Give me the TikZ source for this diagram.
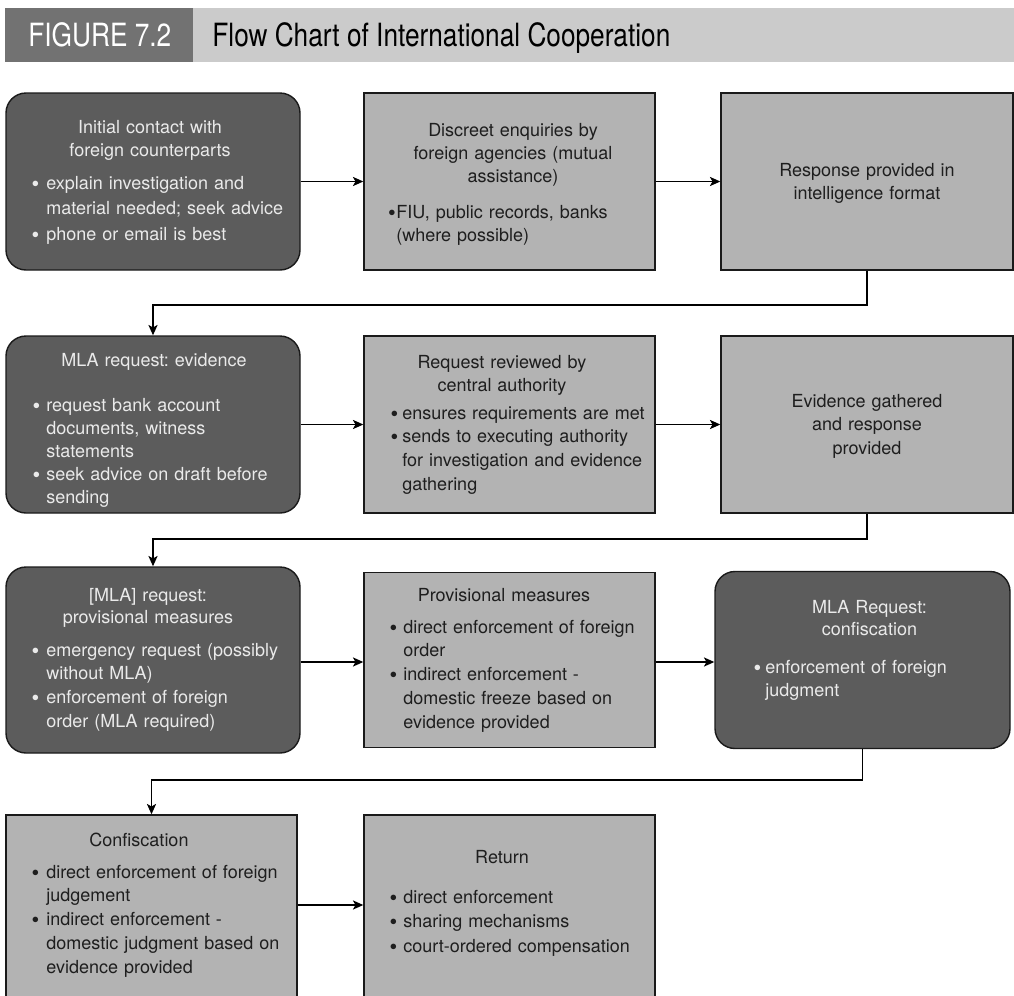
\documentclass[tikz,border=0pt]{standalone}
\usepackage{fontspec}
\setmainfont{TeX Gyre Heros}
\newfontfamily\headfont[FakeStretch=0.82]{TeX Gyre Heros}
\usetikzlibrary{arrows.meta}

\definecolor{hdark}{HTML}{727272}
\definecolor{hlight}{HTML}{CBCBCB}
\definecolor{darkfill}{HTML}{5C5C5C}
\definecolor{lightfill}{HTML}{B3B3B3}
\definecolor{boxline}{HTML}{1A1A1A}
\definecolor{darktext}{HTML}{EAEAEA}
\definecolor{lighttext}{HTML}{1E1E1E}

% bullet hanging to the left of the item text
\newcommand\bdot{\raisebox{-1.1pt}{\fontsize{11}{11}\selectfont\textbullet}}
\newcommand\bl[1][3pt]{\leavevmode\llap{\bdot\hspace{#1}}}

\frenchspacing
\begin{document}
\begin{tikzpicture}[x=0.5pt,y=-0.5pt,
  darkbox/.style={draw=boxline, fill=darkfill, rounded corners=10pt, line width=0.7pt},
  lightbox/.style={draw=boxline, fill=lightfill, line width=0.7pt},
  txt/.style={inner sep=0pt, text width=180pt, font=\fontsize{9}{#1}\selectfont},
  txt/.default=12pt,
  ttl/.style={txt=#1, align=center, anchor=base},
  ttl/.default=11.5pt,
  blt/.style={txt=#1, align=left, anchor=base west},
  blt/.default=11.75pt,
  ondark/.style={text=darktext},
  onlight/.style={text=lighttext},
  head/.style={anchor=base west, inner sep=0pt, font=\headfont\fontsize{16}{18}\selectfont},
  arr/.style={draw=black, line width=0.7pt, -{Stealth[length=5.2pt,width=4.6pt,inset=1.3pt]}}
]
\useasboundingbox (0,0) rectangle (1014,996);
\clip (0,0) rectangle (1014,996);

% header band
\fill[hdark] (5,8) rectangle (193,62);
\fill[hlight] (193,8) rectangle (1014,62);
\node[head, text=white] (figlabel) at (28,46) {FIGURE 7.2};
\node[head, text=black] (figtitle) at (212,46) {Flow Chart of International Cooperation};

% row 1
\node[darkbox, minimum width=147pt, minimum height=88.5pt] (A) at (153,181.5) {};
\node[lightbox, minimum width=145.5pt, minimum height=88.5pt] (B) at (509.5,181.5) {};
\node[lightbox, minimum width=146pt, minimum height=88.5pt] (C) at (867,181.5) {};

\node[ttl, ondark] (At) at (150,133) {Initial contact with\\foreign counterparts};
\node[blt=12.75pt, ondark] (Ab) at (46,189) {\bl[3.6pt]explain investigation and\\material needed; seek advice\\\bl[3.6pt]phone or email is best};

\node[ttl, onlight] (Bt) at (513,136) {Discreet enquiries by\\foreign agencies (mutual\\assistance)};
\node[blt=11.5pt, onlight] (Bb) at (396,218) {\bl[0.3pt]FIU, public records, banks\\(where possible)};

\node[ttl, onlight] (Ct) at (867,176) {Response provided in\\intelligence format};

% row 2
\node[darkbox, minimum width=147pt, minimum height=88.5pt] (D) at (153,424.5) {};
\node[lightbox, minimum width=145.5pt, minimum height=88.5pt] (E) at (509.5,424.5) {};
\node[lightbox, minimum width=146pt, minimum height=88.5pt] (F) at (867,424.5) {};

\node[ttl, ondark] (Dt) at (154,366) {MLA request: evidence};
\node[blt=11.5pt, ondark] (Db) at (46,411) {\bl[3.1pt]request bank account\\documents, witness\\statements\\\bl[3.1pt]seek advice on draft before\\sending};

\node[ttl, onlight] (Et) at (502,368) {Request reviewed by\\central authority};
\node[blt=11.85pt, onlight] (Eb) at (402,419) {\bl[2.1pt]ensures requirements are met\\\bl[2.1pt]sends to executing authority\\for investigation and evidence\\gathering};

\node[ttl=11.75pt, onlight] (Ft) at (867,407) {Evidence gathered\\and response\\provided};

% row 3
\node[darkbox, minimum width=147pt, minimum height=93pt] (G) at (153,660) {};
\node[lightbox, minimum width=145.5pt, minimum height=87.5pt] (H) at (509.5,660) {};
\node[darkbox, minimum width=147.5pt, minimum height=88.5pt] (I) at (862.5,660) {};

\node[ttl=11pt, ondark] (Gt) at (148,601) {{[MLA]} request:\\provisional measures};
\node[blt=11.85pt, ondark] (Gb) at (46,656) {\bl[3.6pt]emergency request (possibly\\without MLA)\\\bl[3.6pt]enforcement of foreign\\order (MLA required)};

\node[ttl, onlight] (Ht) at (504,601) {Provisional measures};
\node[blt=11.9pt, onlight] (Hb) at (403,633) {\bl[3.1pt]direct enforcement of foreign\\order\\\bl[3.1pt]indirect enforcement -\\domestic freeze based on\\evidence provided};

\node[ttl=11pt, ondark] (It) at (869.5,613) {MLA Request:\\confiscation};
\node[blt=11.5pt, ondark] (Ib) at (765,673) {\bl[2.1pt]enforcement of foreign\\judgment};

% row 4 (runs past the lower edge)
\node[lightbox, minimum width=145.5pt, minimum height=97.5pt] (J) at (151.5,912.5) {};
\node[lightbox, minimum width=145.5pt, minimum height=97.5pt] (K) at (509.5,912.5) {};

\node[ttl, onlight] (Jt) at (139,846) {Confiscation};
\node[blt=11.9pt, onlight] (Jb) at (46,878) {\bl[3.6pt]direct enforcement of foreign\\judgement\\\bl[3.6pt]indirect enforcement -\\domestic judgment based on\\evidence provided};

\node[ttl, onlight] (Kt) at (502,863) {Return};
\node[blt=12.25pt, onlight] (Kb) at (403,903) {\bl[3.1pt]direct enforcement\\\bl[3.1pt]sharing mechanisms\\\bl[3.1pt]court-ordered compensation};

% bend heights of the row-to-row connectors
\coordinate (k1) at (0,305);
\coordinate (k2) at (0,539);
\coordinate (k3) at (0,780);

% connectors
\draw[arr] (A.east) -- (B.west);
\draw[arr] (B.east) -- (C.west);
\draw[arr] (C.south) -- (C.south |- k1) -| (D.north);
\draw[arr] (D.east) -- (E.west);
\draw[arr] (E.east) -- (F.west);
\draw[arr] (F.south) -- (F.south |- k2) -| (G.north);
\draw[arr] ([yshift=-1pt]G.east) -- ([yshift=-1pt]H.west);
\draw[arr] ([yshift=-1pt]H.east) -- ([yshift=-1pt]I.west);
\draw[arr] (I.south) -- (I.south |- k3) -| (J.north);
\draw[arr] ([yshift=3.75pt]J.east) -- ([yshift=3.75pt]K.west);
\end{tikzpicture}
\end{document}
